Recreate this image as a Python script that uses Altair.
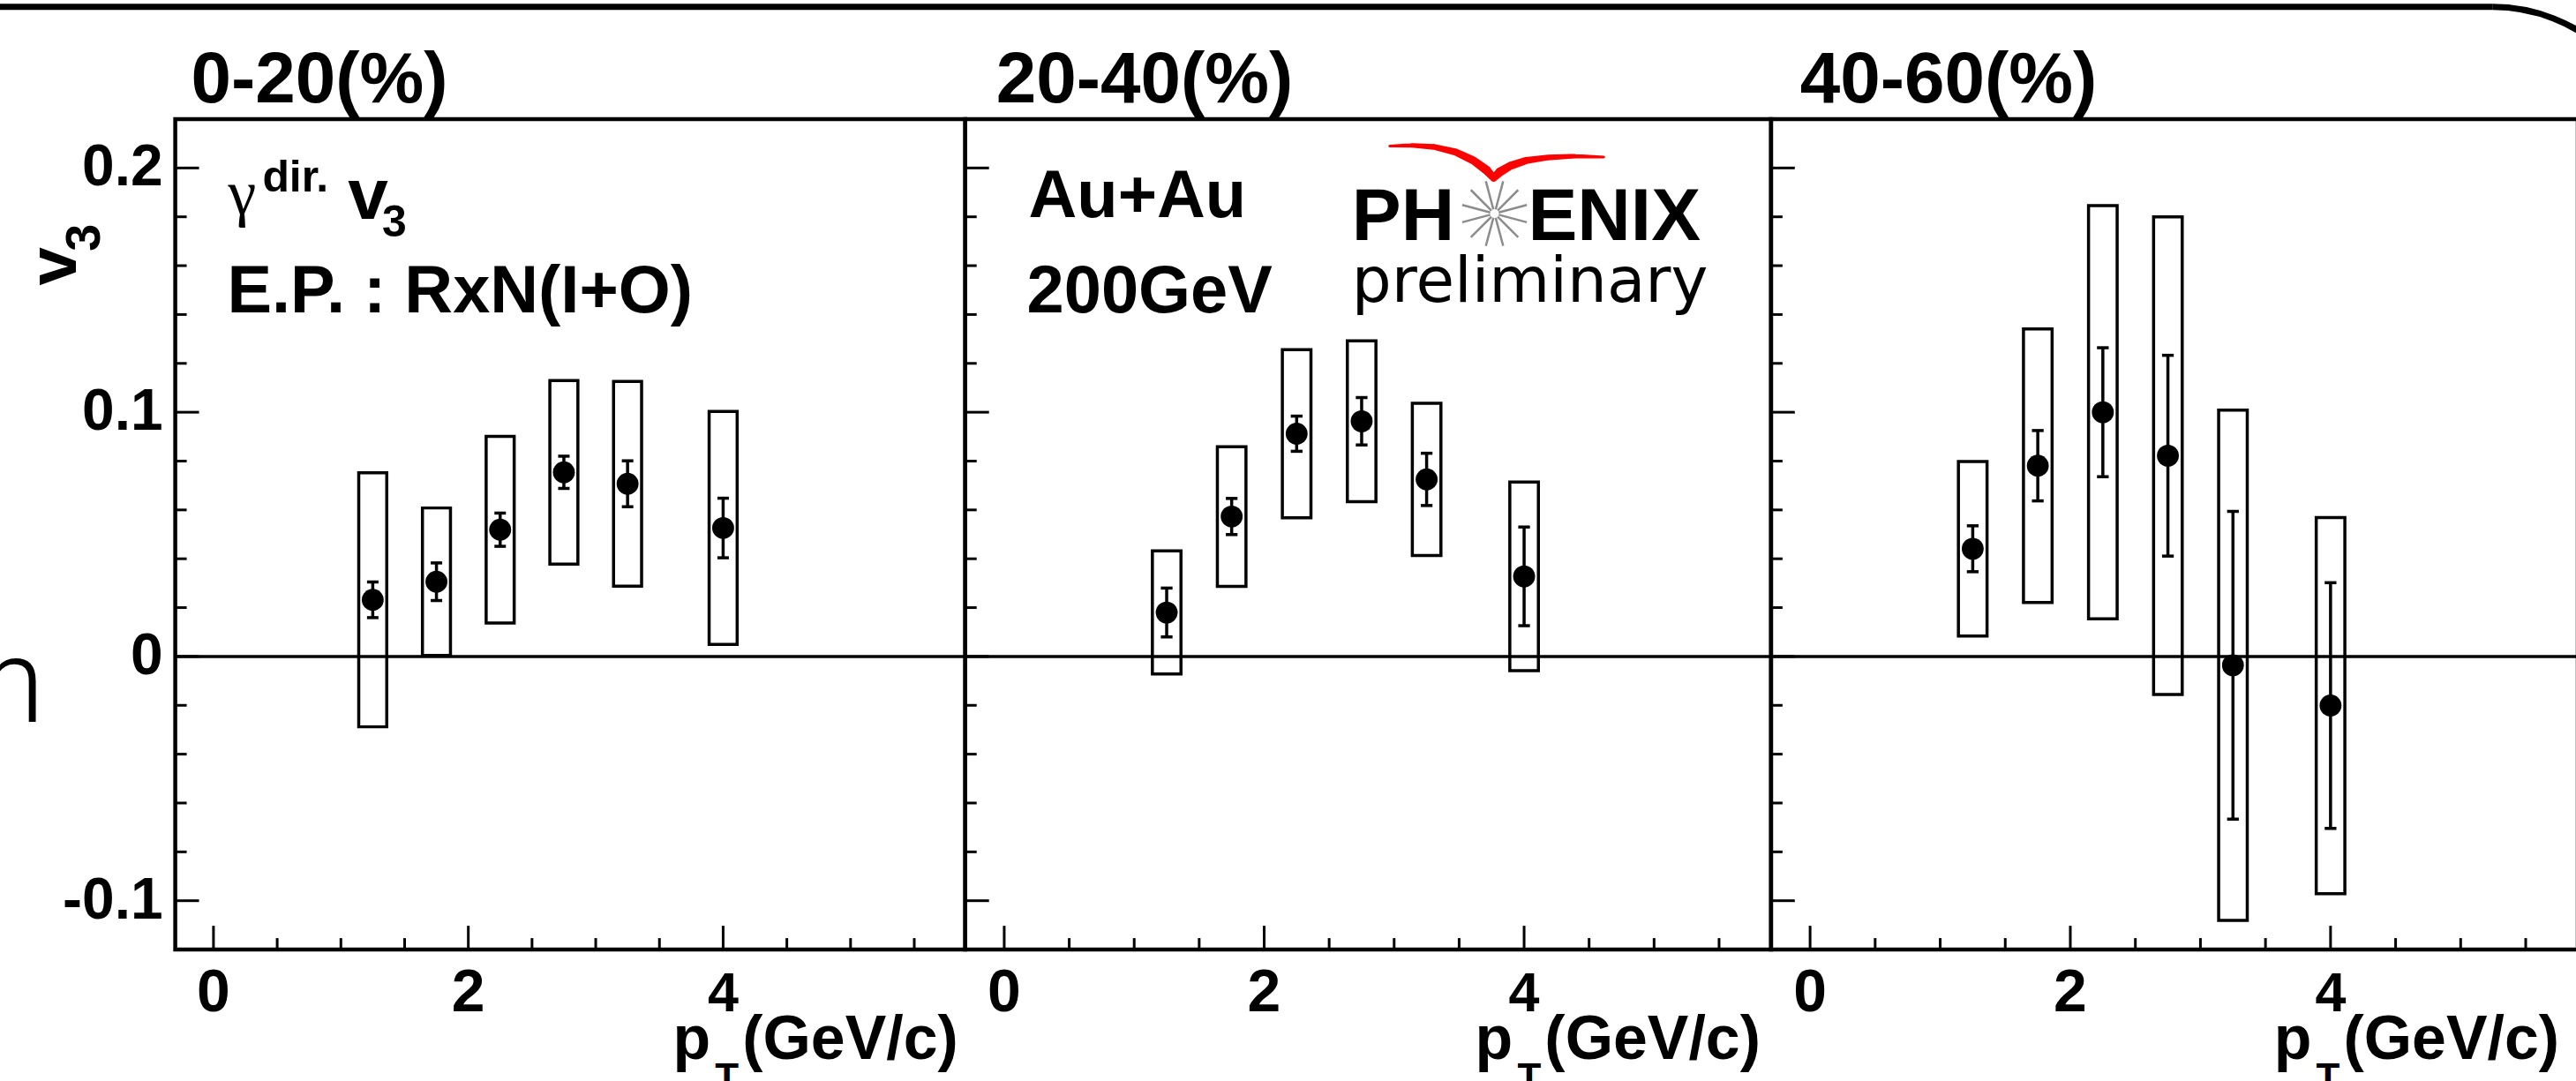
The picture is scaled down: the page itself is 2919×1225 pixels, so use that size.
import math

import altair as alt
import pandas as pd

# ---------------------------------------------------------------------------
# Direct-photon v3 vs pT, Au+Au 200 GeV, three centrality classes
# ---------------------------------------------------------------------------
PT = [1.25, 1.75, 2.25, 2.75, 3.25, 4.0]          # bin centres, GeV/c

V3_0_20 = [0.0232, 0.0306, 0.0519, 0.0754, 0.0707, 0.0526]
STAT_0_20 = [0.0073, 0.0077, 0.0068, 0.0066, 0.0094, 0.0122]
SYS_0_20 = [0.0520, 0.0302, 0.0382, 0.0376, 0.0419, 0.0477]

V3_20_40 = [0.0180, 0.0573, 0.0912, 0.0963, 0.0725, 0.0328]
STAT_20_40 = [0.0100, 0.0074, 0.0072, 0.0097, 0.0107, 0.0202]
SYS_20_40 = [0.0252, 0.0286, 0.0344, 0.0329, 0.0312, 0.0386]

V3_40_60 = [0.0441, 0.0781, 0.1000, 0.0822, -0.0036, -0.0201]
STAT_40_60 = [0.0094, 0.0144, 0.0264, 0.0411, 0.0630, 0.0503]
SYS_40_60 = [0.0357, 0.0560, 0.0846, 0.0978, 0.1045, 0.0770]

CENTRALITY = ["0-20(%)", "20-40(%)", "40-60(%)"]

X_MAJOR = [0, 2, 4]
X_LABELS = ["0", "2", "4"]
X_MINOR = [0.5, 1, 1.5, 2.5, 3, 3.5, 4.5, 5, 5.5]
Y_MAJOR = [-0.1, 0, 0.1, 0.2]
Y_LABELS = ["-0.1", "0", "0.1", "0.2"]
Y_MINOR = [-0.08, -0.06, -0.04, -0.02, 0.02, 0.04, 0.06, 0.08,
           0.12, 0.14, 0.16, 0.18]

X_DOMAIN = [-0.3, 5.9]
Y_DOMAIN = [-0.12, 0.22]

# ---------------------------------------------------------------------------
# styling / geometry
# ---------------------------------------------------------------------------
SANS = "Liberation Sans"
PANEL_W = [897, 915, 916]
PANEL_H = 943
BOX_HALF = 0.11          # half width of systematic boxes (GeV/c)
CAP_HALF = 0.045         # half width of error-bar caps (GeV/c)
MAJOR_LEN, MINOR_LEN = 27, 13

XS = alt.Scale(domain=X_DOMAIN, nice=False, zero=False)
YS = alt.Scale(domain=Y_DOMAIN, nice=False, zero=False)
ONE = pd.DataFrame({"k": [0]})


def txt(text, x, y, size, weight="bold", font=SANS, align="left",
        angle=0, color="black"):
    return alt.Chart(ONE).mark_text(
        text=text, font=font, fontSize=size, fontWeight=weight,
        align=align, baseline="alphabetic", angle=angle, color=color,
    ).encode(x=alt.value(x), y=alt.value(y))


def x_title(right):
    return [
        txt("p", right - 321, 1067, 70),
        txt("T", right - 273, 1103, 44),
        txt("(GeV/c)", right + 3, 1067, 70, align="right"),
    ]


def tick_labels(show_y):
    """Tick labels placed through the panel scales, outside the frame."""
    xbase = alt.Chart(pd.DataFrame({"v": X_MAJOR, "t": X_LABELS}))
    layers = []
    for test, size in (("datum.v != 4", 68), ("datum.v == 4", 63)):
        layers.append(
            xbase.transform_filter(test).mark_text(
                font=SANS, fontWeight="bold", fontSize=size, align="center",
                baseline="alphabetic", color="black").encode(
                x=alt.X("v:Q", scale=XS, axis=None),
                y=alt.value(PANEL_H + 70),
                text="t:N"))
    if show_y:
        yl = alt.Chart(pd.DataFrame({"v": Y_MAJOR, "t": Y_LABELS})).mark_text(
            font=SANS, fontWeight="bold", fontSize=66, align="right",
            baseline="middle", color="black").encode(
            y=alt.Y("v:Q", scale=YS, axis=None),
            x=alt.value(-14),
            text="t:N")
        layers.append(yl)
    return layers


def frame_ticks():
    ymaj = alt.Chart(pd.DataFrame({"v": Y_MAJOR})).mark_rule(
        color="black", strokeWidth=3).encode(
        y=alt.Y("v:Q", scale=YS, axis=None),
        x=alt.value(0), x2=alt.value(MAJOR_LEN))
    ymin = alt.Chart(pd.DataFrame({"v": Y_MINOR})).mark_rule(
        color="black", strokeWidth=3).encode(
        y=alt.Y("v:Q", scale=YS, axis=None),
        x=alt.value(0), x2=alt.value(MINOR_LEN))
    xmaj = alt.Chart(pd.DataFrame({"v": X_MAJOR})).mark_rule(
        color="black", strokeWidth=3).encode(
        x=alt.X("v:Q", scale=XS, axis=None),
        y=alt.value(PANEL_H), y2=alt.value(PANEL_H - MAJOR_LEN))
    xmin = alt.Chart(pd.DataFrame({"v": X_MINOR})).mark_rule(
        color="black", strokeWidth=3).encode(
        x=alt.X("v:Q", scale=XS, axis=None),
        y=alt.value(PANEL_H), y2=alt.value(PANEL_H - MINOR_LEN))
    return [ymaj, ymin, xmaj, xmin]


def data_layers(v3, stat, sys):
    df = pd.DataFrame({"pt": PT, "v3": v3, "stat": stat, "sys": sys})
    df["lo"] = df.v3 - df.stat
    df["hi"] = df.v3 + df.stat
    df["slo"] = df.v3 - df.sys
    df["shi"] = df.v3 + df.sys
    df["bx1"] = df.pt - BOX_HALF
    df["bx2"] = df.pt + BOX_HALF
    df["cx1"] = df.pt - CAP_HALF
    df["cx2"] = df.pt + CAP_HALF
    base = alt.Chart(df)

    def X(f):
        return alt.X(f, type="quantitative", scale=XS, axis=None)

    def Y(f):
        return alt.Y(f, type="quantitative", scale=YS, axis=None)

    zero = alt.Chart(pd.DataFrame({"z": [0.0]})).mark_rule(
        color="black", strokeWidth=3.5).encode(y=Y("z"))
    boxes = base.mark_rect(fillOpacity=0, stroke="black", strokeWidth=3.5).encode(
        x=X("bx1"), x2="bx2", y=Y("slo"), y2="shi")
    bars = base.mark_rule(color="black", strokeWidth=3.5).encode(
        x=X("pt"), y=Y("lo"), y2="hi")
    cap_lo = base.mark_rule(color="black", strokeWidth=3.5).encode(
        x=X("cx1"), x2="cx2", y=Y("lo"))
    cap_hi = base.mark_rule(color="black", strokeWidth=3.5).encode(
        x=X("cx1"), x2="cx2", y=Y("hi"))
    points = base.mark_point(filled=True, shape="circle", size=620,
                             color="black", opacity=1).encode(
        x=X("pt"), y=Y("v3"))
    return [zero, boxes, bars, cap_lo, cap_hi, points]


# ---------------------------------------------------------------------------
# PHENIX preliminary logo (pixel geometry inside the middle panel)
# ---------------------------------------------------------------------------
STAR_CENTER = (601, 107.3)
STAR_ANGLES = [15, 45, 75, 105, 135, 165, 195, 225, 255, 285, 315, 345]
STAR_RADII = (5, 38)
SWOOSH_X = [482, 507, 532, 557, 577, 592, 600, 607, 619, 637, 662, 692, 725]
SWOOSH_Y = [30.5, 29.8, 31.5, 37.5, 47, 58, 67, 60, 53, 47, 43.5, 42, 43]
SWOOSH_W = [3, 5, 6.5, 8, 9, 10, 8, 10, 9, 8, 6.5, 5, 3]


def to_data(px, py, width):
    x = X_DOMAIN[0] + px * (X_DOMAIN[1] - X_DOMAIN[0]) / width
    y = Y_DOMAIN[1] - py * (Y_DOMAIN[1] - Y_DOMAIN[0]) / PANEL_H
    return x, y


def logo(width):
    rays = []
    cx, cy = STAR_CENTER
    for a in STAR_ANGLES:
        t = math.radians(a)
        x1, y1 = to_data(cx + STAR_RADII[0] * math.sin(t),
                         cy - STAR_RADII[0] * math.cos(t), width)
        x2, y2 = to_data(cx + STAR_RADII[1] * math.sin(t),
                         cy - STAR_RADII[1] * math.cos(t), width)
        rays.append({"x1": x1, "y1": y1, "x2": x2, "y2": y2})
    star = alt.Chart(pd.DataFrame(rays)).mark_rule(
        color="#8c8c8c", strokeWidth=2.5).encode(
        x=alt.X("x1:Q", scale=XS, axis=None), x2="x2",
        y=alt.Y("y1:Q", scale=YS, axis=None), y2="y2")
    pts = [to_data(px, py, width) for px, py in zip(SWOOSH_X, SWOOSH_Y)]
    sw = pd.DataFrame({"i": range(len(pts)), "x": [p[0] for p in pts],
                       "y": [p[1] for p in pts], "w": SWOOSH_W})
    swoosh = alt.Chart(sw).mark_trail(color="#ff0000").encode(
        x=alt.X("x:Q", scale=XS, axis=None),
        y=alt.Y("y:Q", scale=YS, axis=None),
        order="i:O",
        size=alt.Size("w:Q", scale=None, legend=None))
    return [
        star, swoosh,
        txt("PH", 439, 137, 84),
        txt("ENIX", 639, 137, 84),
        txt("preliminary", 439, 207, 71, weight="normal", font="DejaVu Sans"),
    ]


# ---------------------------------------------------------------------------
# panels
# ---------------------------------------------------------------------------
p1_layers = (
    data_layers(V3_0_20, STAT_0_20, SYS_0_20)
    + frame_ticks()
    + tick_labels(True)
    + [
        txt(CENTRALITY[0], 18, -19, 82),
        txt("\u03b3", 60, 108, 72, weight="normal", font="Liberation Serif"),
        txt("dir.", 99, 82, 50),
        txt("v", 196, 113, 82),
        txt("3", 235, 133, 50),
        txt("E.P. : RxN(I+O)", 59, 219, 76),
        txt("v", -113, 189, 78, angle=270),
        txt("3", -86, 150, 56, angle=270),
        txt("n", -222, 684, 134, weight=300, font="Roboto"),
        # slide frame, top edge
        alt.Chart(ONE).mark_rule(color="black", strokeWidth=7).encode(
            x=alt.value(-220), x2=alt.value(2631),
            y=alt.value(-127.5), y2=alt.value(-127.5)),
        # page anchor (top-left)
        alt.Chart(ONE).mark_rule(color="white", strokeWidth=2).encode(
            x=alt.value(-300), x2=alt.value(-300),
            y=alt.value(-200), y2=alt.value(-190)),
    ]
    + x_title(886)
)
p1 = alt.layer(*p1_layers).properties(width=PANEL_W[0], height=PANEL_H)

p2_layers = (
    data_layers(V3_20_40, STAT_20_40, SYS_20_40)
    + frame_ticks()
    + tick_labels(False)
    + [
        txt(CENTRALITY[1], 35, -19, 82),
        txt("Au+Au", 72, 111, 76),
        txt("200GeV", 70, 219, 76),
    ]
    + logo(PANEL_W[1])
    + x_title(900)
)
p2 = alt.layer(*p2_layers).properties(width=PANEL_W[1], height=PANEL_H)

p3_layers = (
    data_layers(V3_40_60, STAT_40_60, SYS_40_60)
    + frame_ticks()
    + tick_labels(False)
    + [
        txt(CENTRALITY[2], 33, -19, 82),
        # slide frame, rounded top-right corner
        alt.Chart(ONE).mark_arc(color="black", radius=193.5, radius2=186.5,
                                theta=0, theta2=0.75).encode(
            x=alt.value(819), y=alt.value(62.5)),
        # page anchor (bottom-right)
        alt.Chart(ONE).mark_rule(color="white", strokeWidth=2).encode(
            x=alt.value(1000), x2=alt.value(1000),
            y=alt.value(1190), y2=alt.value(1200)),
    ]
    + x_title(892)
)
p3 = alt.layer(*p3_layers).properties(width=PANEL_W[2], height=PANEL_H)

chart = (
    alt.hconcat(p1, p2, p3, spacing=0, bounds="flush")
    .resolve_scale(x="independent", y="independent")
    .properties(padding={"left": -105, "top": -70, "right": -90, "bottom": -107},
                background="white")
    .configure_view(stroke="black", strokeWidth=4.5)
)

chart.save("out.html", embed_options={"renderer": "svg", "actions": False})
